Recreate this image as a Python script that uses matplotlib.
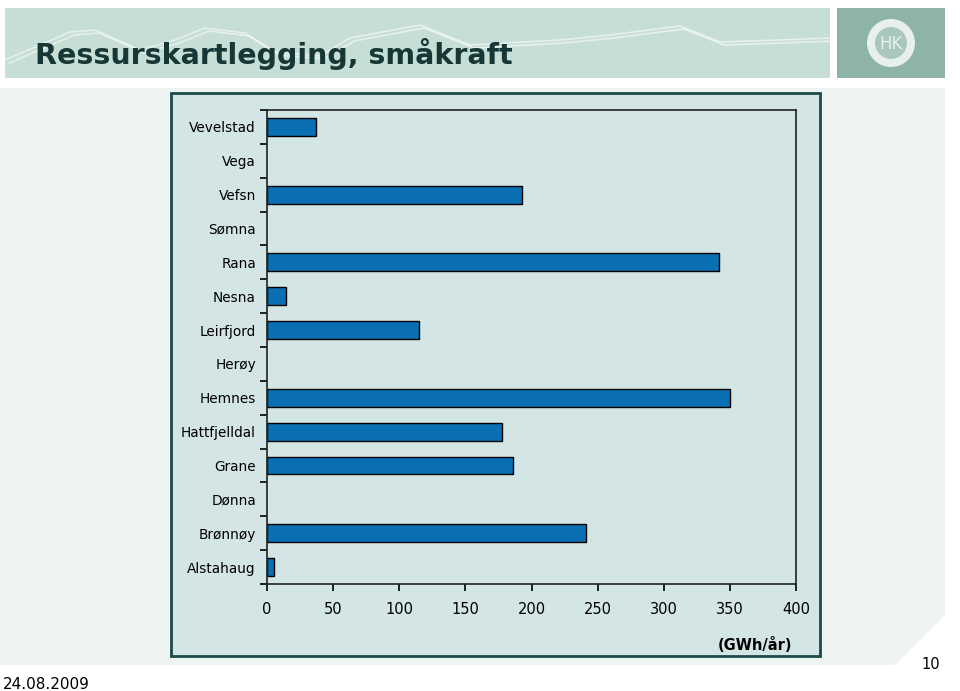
import numpy as np
import matplotlib.pyplot as plt
from matplotlib.patches import Rectangle, Polygon, Circle

# data (bottom to top)
kommuner = ['Alstahaug', 'Brønnøy', 'Dønna', 'Grane', 'Hattfjelldal', 'Hemnes', 'Herøy',
            'Leirfjord', 'Nesna', 'Rana', 'Sømna', 'Vefsn', 'Vega', 'Vevelstad']
gwh = [5.5, 241, 0, 186, 178, 350, 0, 115, 14, 342, 0, 193, 0, 37]

W, H = 960, 691
fig = plt.figure(figsize=(W / 100, H / 100), dpi=100)
fig.patch.set_facecolor('white')

# background layer in pixel coords
bg = fig.add_axes([0, 0, 1, 1])
bg.set_xlim(0, W)
bg.set_ylim(H, 0)
bg.axis('off')

# header band + logo box
bg.add_patch(Rectangle((5, 8), 825, 70, facecolor='#c7ded7', edgecolor='none'))
# decorative mountain lines in the header
for dy, ph in [(0, 0.0), (3, 0.35)]:
    xs = np.array([5, 40, 70, 95, 140, 175, 205, 245, 275, 320, 350, 420, 470, 560,
                   610, 680, 720, 780, 830])
    ys = np.array([60, 45, 32, 30, 50, 40, 28, 33, 52, 56, 38, 25, 45, 40,
                   35, 26, 42, 40, 38]) + dy
    bg.plot(xs + ph * 12, ys, color='white', alpha=0.55, lw=1.2)
bg.add_patch(Rectangle((837, 8), 108, 70, facecolor='#8db4a7', edgecolor='none'))
bg.add_patch(Circle((891, 43), 24, facecolor='#e8f0ed', edgecolor='none'))
bg.add_patch(Circle((891, 43), 17, facecolor='#a9c7bd', edgecolor='#e8f0ed', lw=1.5))
bg.text(891, 44, 'HK', ha='center', va='center', color='#e8f0ed', fontsize=12)
bg.text(35, 64, 'Ressurskartlegging, småkraft', fontsize=20.5, fontweight='bold',
        color='#173737', va='baseline')

# light content area with cut corner
bg.add_patch(Polygon([(0, 88), (945, 88), (945, 615), (895, 665), (0, 665)],
                     closed=True, facecolor='#eef4f2', edgecolor='none'))

# chart frame
bg.add_patch(Rectangle((171, 93), 649, 563, facecolor='#d3e5e5',
                       edgecolor='#1d4a4a', lw=2))

bg.text(792, 650, '(GWh/år)', ha='right', va='baseline', fontsize=10.5,
        fontweight='bold', color='black')
bg.text(3, 689, '24.08.2009', ha='left', va='baseline', fontsize=11, color='black')
bg.text(940, 669, '10', ha='right', va='baseline', fontsize=10.5, color='black')

# bar chart
ax = fig.add_axes([267 / W, 1 - 584 / H, (796 - 267) / W, (584 - 110) / H])
ax.set_facecolor('none')
pos = list(range(len(kommuner)))
edges = ['black' if v > 0 else 'none' for v in gwh]
ax.barh(pos, gwh, height=0.53, color='#0b6fb4', edgecolor=edges, linewidth=1)
ax.set_xlim(0, 400)
ax.set_ylim(-0.5, len(kommuner) - 0.5)
ax.set_xticks(range(0, 401, 50))
ax.set_yticks(pos)
ax.set_yticklabels(kommuner)
ax.set_yticks([p - 0.5 for p in pos] + [len(kommuner) - 0.5], minor=True)
ax.tick_params(axis='y', which='major', length=0, pad=8, labelsize=9.8)
ax.tick_params(axis='y', which='minor', length=5, width=1.2, direction='out')
ax.tick_params(axis='x', length=5, width=1.2, direction='out', pad=8, labelsize=10.5)
for s in ax.spines.values():
    s.set_color('#222222')
    s.set_linewidth(1.2)

fig.savefig('out.png', dpi=100)
